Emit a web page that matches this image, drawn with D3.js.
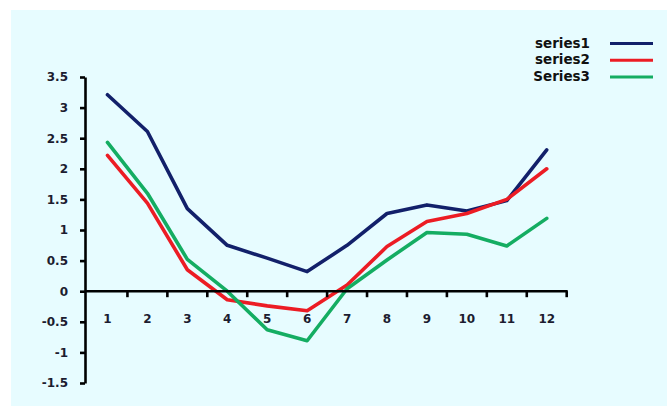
<!DOCTYPE html>
<html>
<head>
<meta charset="utf-8">
<script src="https://cdn.jsdelivr.net/npm/d3@7"></script>
<style>
  html, body { margin: 0; padding: 0; background: #ffffff; }
  svg { display: block; }
  text { font-family: "DejaVu Sans", sans-serif; font-weight: 700; }
</style>
</head>
<body>
<svg id="chart" width="667" height="407"></svg>
<script>
// Monthly categories along the x axis
const categories = [1, 2, 3, 4, 5, 6, 7, 8, 9, 10, 11, 12];

// Series values
const series1 = [3.21, 2.61, 1.35, 0.75, 0.54, 0.32, 0.75, 1.27, 1.41, 1.31, 1.48, 2.31];
const series2 = [2.22, 1.44, 0.35, -0.14, -0.24, -0.32, 0.1, 0.73, 1.14, 1.27, 1.5, 2.0];
const series3 = [2.43, 1.6, 0.52, 0.0, -0.63, -0.81, 0.04, 0.51, 0.96, 0.93, 0.74, 1.19];

const seriesNames = ["series1", "series2", "Series3"];
const seriesColors = ["#12206a", "#ec1c24", "#14ad62"];

// Y axis ticks and their labels
const yTicks = [3.5, 3, 2.5, 2, 1.5, 1, 0.5, 0, -0.5, -1, -1.5];
const yTickLabels = ["3.5", "3", "2.5", "2", "1.5", "1", "0.5", "0", "-0.5", "-1", "-1.5"];

const svg = d3.select("#chart");

// Pale cyan plot background
svg.append("rect")
  .attr("x", 11).attr("y", 10)
  .attr("width", 656).attr("height", 396)
  .attr("fill", "#e7fcff");

const x = d3.scaleBand().domain(categories).range([87.5, 566.7]).padding(0);
const y = d3.scaleLinear().domain([-1.5, 3.5]).range([383, 77]);
const axisX = 85;

// Lines
const line = d3.line()
  .x((d, i) => x(categories[i]) + x.bandwidth() / 2)
  .y(d => y(d));

[series1, series2, series3].forEach((vals, k) => {
  svg.append("path")
    .datum(vals)
    .attr("d", line)
    .attr("fill", "none")
    .attr("stroke", seriesColors[k])
    .attr("stroke-width", 3.6)
    .attr("stroke-linejoin", "round")
    .attr("stroke-linecap", "round");
});

// Y axis
const yAxis = svg.append("g")
  .attr("transform", `translate(${axisX},0)`)
  .call(d3.axisLeft(y).tickValues(yTicks)
    .tickFormat((d, i) => yTickLabels[i])
    .tickSize(5).tickSizeOuter(0).tickPadding(12));
yAxis.select(".domain").attr("stroke", "#000").attr("stroke-width", 2.6);
yAxis.selectAll(".tick line").attr("stroke", "#000").attr("stroke-width", 2.6);
yAxis.selectAll(".tick text")
  .attr("fill", "#1c1c30").attr("font-size", 12);

// X axis along zero: labels at band centres, ticks at band edges
const xAxis = svg.append("g")
  .attr("transform", `translate(0,${y(0)})`)
  .call(d3.axisBottom(x).tickSize(0).tickSizeOuter(0).tickPadding(23));
xAxis.select(".domain").remove();
xAxis.selectAll(".tick text")
  .attr("fill", "#1c1c30").attr("font-size", 12);

xAxis.append("line")
  .attr("x1", axisX).attr("x2", x.range()[1] + 1)
  .attr("y1", 0).attr("y2", 0)
  .attr("stroke", "#000").attr("stroke-width", 2.6);

xAxis.selectAll(".edge")
  .data(categories)
  .join("line")
  .attr("class", "edge")
  .attr("x1", d => x(d) + x.bandwidth())
  .attr("x2", d => x(d) + x.bandwidth())
  .attr("y1", 0).attr("y2", 6)
  .attr("stroke", "#000").attr("stroke-width", 2.6);

// Legend
const legend = svg.append("g");
seriesNames.forEach((name, k) => {
  const cy = 43 + k * 16.7;
  legend.append("text")
    .attr("x", 590).attr("y", cy)
    .attr("dy", "0.35em")
    .attr("text-anchor", "end")
    .attr("font-size", 13.5)
    .attr("fill", "#111")
    .text(name);
  legend.append("line")
    .attr("x1", 610).attr("x2", 653)
    .attr("y1", cy + 0.5).attr("y2", cy + 0.5)
    .attr("stroke", seriesColors[k])
    .attr("stroke-width", 3);
});
</script>
</body>
</html>
